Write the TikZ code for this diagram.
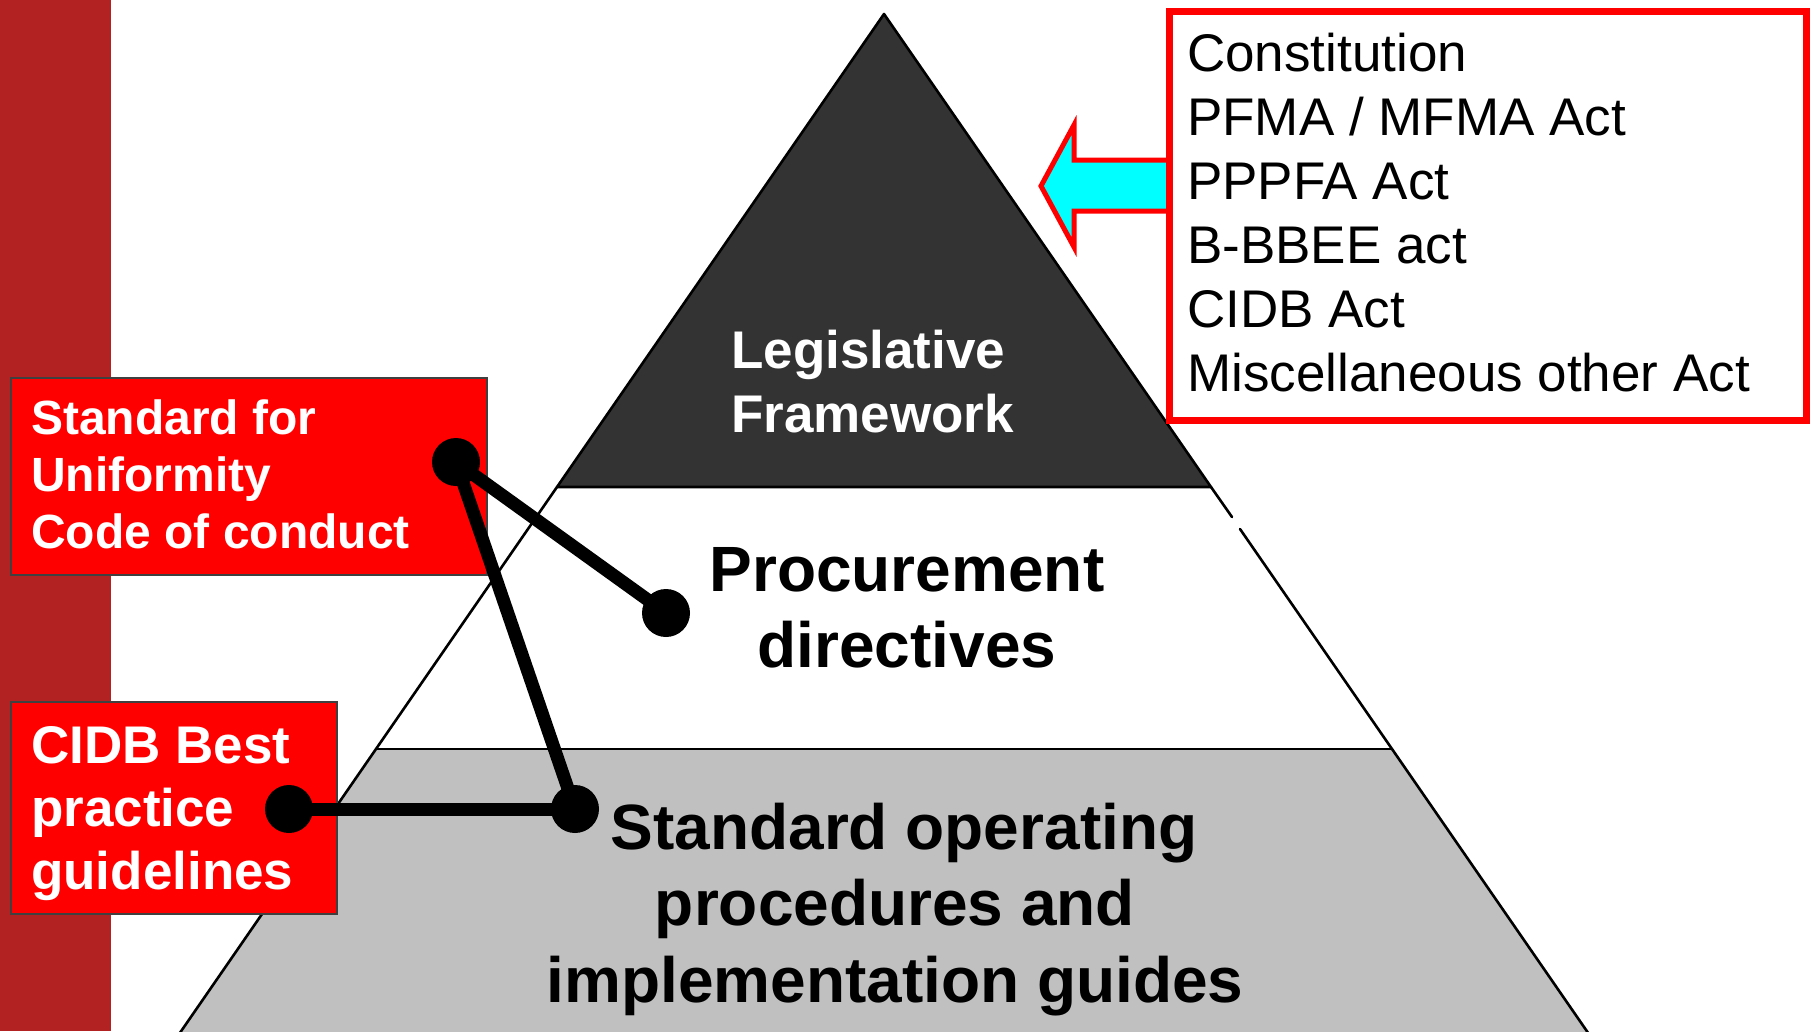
\documentclass[tikz,border=0pt]{standalone}
\usepackage{fontspec}
\setmainfont{Liberation Sans}
\definecolor{bandred}{RGB}{178,34,34}
\definecolor{darktier}{RGB}{51,51,51}
\definecolor{lighttier}{RGB}{192,192,192}
\definecolor{arrowcyan}{RGB}{0,255,255}
\definecolor{boxred}{RGB}{255,0,0}

\begin{document}
\begin{tikzpicture}[x=1pt,y=-1pt,
  tieredge/.style={line width=2.6pt, line cap=round, line join=round},
  redbox/.style={draw=black!75, line width=2pt, fill=boxred, inner sep=0, anchor=north west},
  boxline/.style={anchor=base west, inner sep=0, text=white},
  actline/.style={anchor=base west, inner sep=0, font=\fontsize{53}{64}\selectfont},
  tierline/.style={anchor=base, inner sep=0, font=\bfseries\fontsize{64}{76}\selectfont},
  dot/.style={circle, fill=black, minimum size=48, inner sep=0},
  connector/.style={line width=13pt}
]
\useasboundingbox (0,0) rectangle (1810,1031);
\clip (0,0) rectangle (1810,1031);
\fill[white] (0,0) rectangle (1810,1031);

% side band
\fill[bandred] (0,0) rectangle (111,1031);

% pyramid corners
\coordinate (apex) at (884,14);
\coordinate (tl) at (557,487);
\coordinate (tr) at (1211,487);
\coordinate (ml) at (376,749);
\coordinate (mr) at (1392,749);
\coordinate (bl) at (175,1040);
\coordinate (br) at (1593,1040);
\coordinate (gapa) at (1232,517);
\coordinate (gapb) at (1240,529);

% tiers
\fill[darktier] (apex) -- (tr) -- (tl) -- cycle;
\fill[lighttier] (ml) -- (mr) -- (br) -- (bl) -- cycle;
\draw[tieredge] (tl) -- (apex) -- (tr) -- cycle;
\draw[tieredge] (ml) -- (mr);
\draw[tieredge] (tl) -- (ml) -- (bl);
\draw[tieredge] (tr) -- (gapa);
\draw[tieredge] (gapb) -- (mr) -- (br);

% arrow from the list of acts
\draw[draw=boxred, line width=5pt, fill=arrowcyan, line join=miter]
  (1168,160) -- (1074,160) -- (1074,125) -- (1041,186) -- (1074,247) -- (1074,211) -- (1168,211);

% list of acts
\node[draw=boxred, line width=7pt, fill=white, inner sep=0, anchor=north west,
      minimum width=637, minimum height=409] (acts) at (1166,8) {};
\foreach \t [count=\i from 0] in {Constitution, PFMA / MFMA Act, PPPFA Act, B-BBEE act, CIDB Act, Miscellaneous other Act}
  \node[actline] (act\i) at (1187,71+64*\i) {\t};

% side boxes
\node[redbox, minimum width=476, minimum height=197] (uniform) at (10,377) {};
\node[redbox, minimum width=326, minimum height=212] (cidb) at (10,701) {};

\begin{scope}[every node/.style={boxline, font=\bfseries\fontsize{48}{57}\selectfont}]
  \node (uniform1) at (31,434) {Standard for};
  \node (uniform2) at (31,491) {Uniformity};
  \node (uniform3) at (31,548) {Code of conduct};
\end{scope}
\begin{scope}[every node/.style={boxline, font=\bfseries\fontsize{53}{63}\selectfont}]
  \node (cidb1) at (31,763) {CIDB Best};
  \node (cidb2) at (31,826) {practice};
  \node (cidb3) at (31,889) {guidelines};
\end{scope}

% tier labels
\begin{scope}[every node/.style={anchor=base west, inner sep=0, text=white, font=\bfseries\fontsize{53}{64}\selectfont}]
  \node (legis1) at (731,368) {Legislative};
  \node (legis2) at (731,432) {Framework};
\end{scope}
\node[tierline] (proc1) at (907,591) {Procurement};
\node[tierline] (proc2) at (907,667) {directives};
\node[tierline] (sop1) at (904,849) {Standard operating};
\node[tierline] (sop2) at (895,925) {procedures and};
\node[tierline] (sop3) at (895,1002) {implementation guides};

% connectors
\node[dot] (dota) at (456,462) {};
\node[dot] (dotb) at (666,613) {};
\node[dot] (dotc) at (289,809) {};
\node[dot] (dotd) at (575,809) {};
\draw[connector] (dota.center) -- (dotb.center);
\draw[connector] (dota.center) -- (dotd.center);
\draw[connector] (dotc.center) -- (dotd.center);
\end{tikzpicture}
\end{document}
